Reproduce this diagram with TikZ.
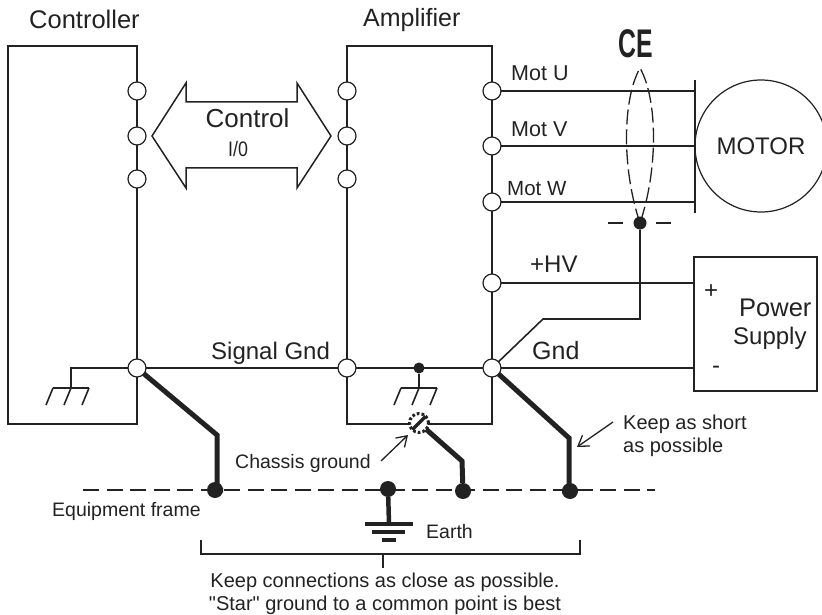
\documentclass[tikz,border=0pt]{standalone}
\usepackage{fontspec}
\setmainfont[Ligatures=TeXOff]{Liberation Sans}
\usepackage{tikz}
\usetikzlibrary{calc,positioning,arrows.meta}
\definecolor{ink}{HTML}{222222}
\tikzset{
  >={Straight Barb[length=10pt, width=13pt]},
  lbl/.style={anchor=base west, inner sep=0pt, font=\fontsize{24}{26}\selectfont},
  smalllbl/.style={anchor=base west, inner sep=0pt, font=\fontsize{19.5}{22}\selectfont},
  box/.style={rectangle, draw=ink, line width=1.2pt, inner sep=0pt, outer sep=0pt},
  term/.style={circle, draw=ink, fill=white, line width=1.2pt, minimum size=18pt, inner sep=0pt, outer sep=0pt},
  wire/.style={line width=1.6pt},
  gndwire/.style={line width=5pt, line join=miter},
  bigdot/.style={circle, fill=ink, draw=none, minimum size=16pt, inner sep=0pt, outer sep=0pt},
  tinydot/.style={circle, fill=ink, draw=none, minimum size=11pt, inner sep=0pt, outer sep=0pt},
  thin line/.style={line width=1.3pt},
}
\begin{document}
\begin{tikzpicture}[x=1pt, y=-1pt, color=ink]
    \useasboundingbox (0,0) rectangle (822,615);

    \node[box, minimum width=129pt, minimum height=378pt] (ctrl) at (72.5,235) {};
    \node[box, minimum width=145pt, minimum height=378pt] (amp) at (419.5,235) {};
    \node[lbl, font=\fontsize{25.5}{26}\selectfont] (ctrllbl) at (29,29) {Controller};
    \node[lbl, font=\fontsize{25}{26}\selectfont] (amplbl) at (363,27) {Amplifier};

    % terminals on the two boxes
    \foreach \nm/\yy in {a/91, b/136, c/179} {
        \node[term] (ctrl\nm) at (137,\yy) {};
        \node[term] (ampl\nm) at (347,\yy) {};
    }
    \node[term] (motu) at (492,91) {};
    \node[term] (motv) at (492,146) {};
    \node[term] (motw) at (492,202) {};
    \node[term] (hv) at (492,283) {};
    \node[term] (ctrlgnd) at (137,368) {};
    \node[term] (ampsig) at (347,368) {};
    \node[term] (ampgnd) at (492,368) {};

    % double arrow
    \draw[line width=1.5pt] (152,136) -- (186,83) -- (186,102) -- (297,102) -- (297,83) -- (331,136)
        -- (297,188) -- (297,168) -- (186,168) -- (186,188) -- cycle;
    \node[inner sep=0pt, anchor=base, font=\fontsize{26}{28}\selectfont] (ctrltxt) at (247.5,128) {Control};
    \node[inner sep=0pt, anchor=base, font=\fontsize{21}{22}\selectfont] (io) at (238,157) {\scalebox{.85}[1]{I/0}};

    % motor side
    \node[circle, draw=ink, line width=1.2pt, minimum size=132pt, inner sep=0pt] (motor) at (761,146) {\fontsize{24}{26}\selectfont MOTOR};
    \coordinate (bartop) at (695,80);
    \coordinate (barbot) at (695,213);
    \draw[line width=1.3pt] (bartop) -- (barbot);
    \draw[wire] (motu) -- (motu -| bartop);
    \draw[wire] (motv) -- (motv -| bartop);
    \draw[wire] (motw) -- (motw -| bartop);
    \node[lbl, font=\fontsize{21.5}{24}\selectfont] (motulbl) at (511,81) {Mot U};
    \node[lbl, font=\fontsize{21.5}{24}\selectfont] (motvlbl) at (511,137) {Mot V};
    \node[lbl, font=\fontsize{20.5}{24}\selectfont] (motwlbl) at (507,195) {Mot W};

    % cable shield
    \node[bigdot, minimum size=13pt] (shield) at (640,223) {};
    \node[inner sep=0pt, font=\fontsize{40}{40}\selectfont\bfseries] (ce) at (636,44) {\scalebox{.62}[1]{CE}};
    \draw[thin line, dash pattern=on 15pt off 5pt] (shield.center) .. controls (622,170) and (622,100) .. (640,68)
        .. controls (658,100) and (658,170) .. (shield.center);
    \draw[thin line] (shield.west) ++(-11,0) -- ++(-15,0);
    \draw[thin line] (shield.east) ++(9,0) -- ++(15,0);
    \coordinate (bend1) at (640,319);
    \coordinate (bend2) at (543,319);
    \draw[wire] (shield) -- (bend1) -- (bend2) -- (ampgnd);

    % power supply
    \node[box, minimum width=123pt, minimum height=134pt] (pwr) at (755.5,324) {};
    \draw[wire] (hv) -- (hv -| pwr.west);
    \node[lbl] (hvlbl) at (530,272) {+HV};
    \node[lbl] (plus) at (704,298) {+};
    \node[lbl] (minus) at (712,373) {-};
    \node[lbl, font=\fontsize{25.5}{26}\selectfont] (pwrlbl1) at (739,316) {Power};
    \node[lbl] (pwrlbl2) at (733,344) {Supply};

    % signal ground
    \draw[wire] (ctrlgnd) -- (ampsig);
    \draw[wire] (ampsig) -- (ampgnd);
    \draw[wire] (ampgnd) -- (ampgnd -| pwr.west);
    \node[lbl] (siglbl) at (211,359) {Signal Gnd};
    \node[lbl, font=\fontsize{25}{26}\selectfont] (gndlbl) at (532,359) {Gnd};

    % chassis symbols
    \coordinate (cgnd) at (71,388);
    \draw[wire] (ctrlgnd) -| (cgnd);
    \draw[wire] (53,388) -- (89,388);
    \foreach \xx in {53,71,89} \draw[wire] (\xx,388) -- ++(-7,17);
    \node[tinydot] (sigdot) at (419,368) {};
    \coordinate (agnd) at (419,388);
    \draw[wire] (sigdot) -- (agnd);
    \draw[wire] (401,388) -- (437,388);
    \foreach \xx in {401,419,437} \draw[wire] (\xx,388) -- ++(-7,17);

    % equipment frame
    \draw[thin line, dash pattern=on 16pt off 7.5pt] (83,490) -- (655,490);
    \node[bigdot] (frame1) at (215,490) {};
    \node[bigdot] (frame2) at (388,489) {};
    \node[bigdot] (frame3) at (463,491) {};
    \node[bigdot] (frame4) at (570,491) {};
    \node[smalllbl] (framelbl) at (52,516) {Equipment frame};

    % bonding straps
    \coordinate (strap1) at (217,435);
    \coordinate (strap2) at (462,461);
    \coordinate (strap3) at (569,438);
    \node[circle, fill=white, draw=ink, line width=3pt, dash pattern=on 2.7pt off 2.1pt, minimum size=19pt, inner sep=0pt, outer sep=0pt] (screw) at (419,423) {};
    \draw[gndwire] (ctrlgnd) -- (strap1) -- (strap1 |- frame1) -- (frame1);
    \draw[gndwire] (screw) -- (strap2) -- (frame3);
    \draw[gndwire] (ampgnd) -- (strap3) -- (strap3 |- frame4) -- (frame4);
    \draw[line width=3.2pt] (screw.225) -- (screw.45);

    % earth
    \coordinate (earth1) at (389,524);
    \draw[line width=4.5pt] (frame2) -- (earth1);
    \draw[line width=4.5pt] (365,524) -- (413,524);
    \draw[line width=4.5pt] (372,532) -- (405,532);
    \draw[line width=4.5pt] (382,540) -- (396,540);
    \node[smalllbl] (earthlbl) at (426,538) {Earth};

    % notes
    \node[smalllbl] (chassislbl) at (235,468) {Chassis ground};
    \coordinate (chfrom) at (381,461);
    \coordinate (chto) at (408,435);
    \draw[thin line, ->] (chfrom) -- (chto);
    \node[smalllbl, font=\fontsize{20}{22}\selectfont] (shortlbl1) at (623,429) {Keep as short};
    \node[smalllbl, font=\fontsize{20}{22}\selectfont] (shortlbl2) at (623,452) {as possible};
    \coordinate (shfrom) at (613,422);
    \coordinate (shto) at (577,447);
    \draw[thin line, ->] (shfrom) -- (shto);

    % bracket
    \coordinate (brl) at (201,540);
    \coordinate (brr) at (580,540);
    \coordinate (brstem) at (383,568);
    \draw[line width=1.5pt] (brl) -- (201,554) -- (580,554) -- (brr);
    \draw[thin line] (383,554) -- (brstem);
    \node[inner sep=0pt, anchor=base, align=center, font=\fontsize{20}{23}\selectfont] (bestlbl) at (385,610) {Keep connections as close as possible.\\"Star" ground to a common point is best};
\end{tikzpicture}
\end{document}
